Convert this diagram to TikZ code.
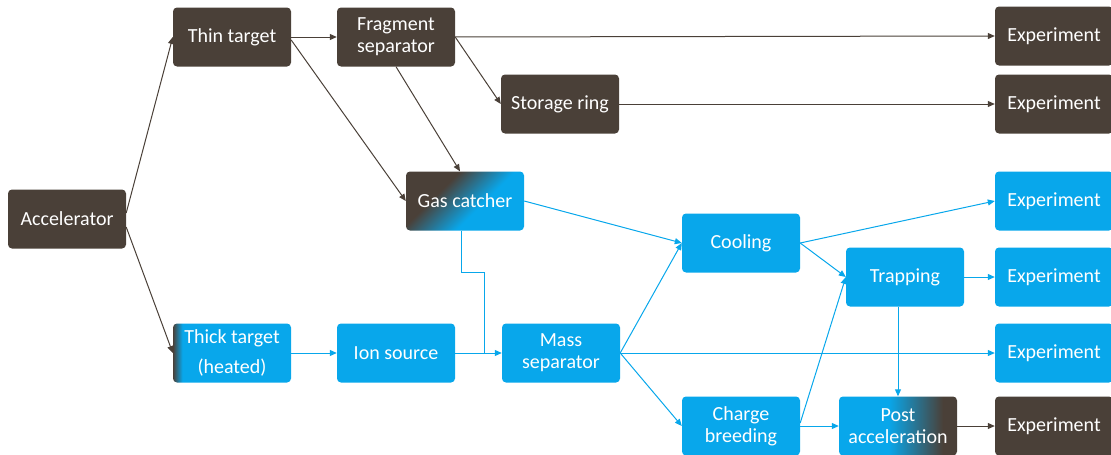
\documentclass[tikz,border=0pt]{standalone}
\usepackage{fontspec}
\setmainfont{Carlito}
\usepackage{tikz}
\usetikzlibrary{arrows.meta,positioning}

\definecolor{darkbrown}{RGB}{74,64,56}
\definecolor{lightblue}{RGB}{8,167,235}
\pgfdeclarehorizontalshading{thick_shade}{100bp}{color(0bp)=(darkbrown); color(25bp)=(darkbrown); color(29bp)=(lightblue); color(100bp)=(lightblue)}
\pgfdeclarehorizontalshading{post_shade}{100bp}{color(0bp)=(lightblue); color(46bp)=(lightblue); color(69bp)=(darkbrown); color(100bp)=(darkbrown)}
\pgfdeclarehorizontalshading{gas_shade}{100bp}{color(0bp)=(darkbrown); color(36bp)=(darkbrown); color(58bp)=(lightblue); color(100bp)=(lightblue)}

\begin{document}
\begin{tikzpicture}[x=1pt,y=-1pt]
		\tikzstyle{box_style} = [rectangle,rounded corners=4pt,minimum width=118pt,minimum height=59pt,inner sep=2pt,align=center,text=white,font=\fontsize{20}{22}\selectfont]
		\tikzstyle{brown_box} = [box_style,fill=darkbrown]
		\tikzstyle{blue_box} = [box_style,fill=lightblue]
		\tikzstyle{brown_edge} = [draw=darkbrown,line width=1pt,-{Triangle[length=7pt,width=6pt]}]
		\tikzstyle{blue_edge} = [draw=lightblue,line width=1pt,-{Triangle[length=7pt,width=6pt]}]
		\useasboundingbox (0,0) rectangle (1111,455);
		% left part
		\node[brown_box] (acc) at (67,219) {Accelerator};
		\node[brown_box] (thin) at (232,37) {Thin target};
		\node[brown_box] (frag) at (396,37) {Fragment\\separator};
		\node[brown_box] (ring) at (560,104) {Storage ring};
		\node[box_style,shade,shading=gas_shade,shading angle=-45] (gas) at (465,201) {Gas catcher};
		\node[box_style,shade,shading=thick_shade] (thick) at (232,353) {Thick target\\[8pt](heated)};
		\node[blue_box] (ion) at (396,353) {Ion source};
		\node[blue_box] (mass) at (561,353) {Mass\\separator};
		% right part
		\node[blue_box] (cool) at (741,243) {Cooling};
		\node[blue_box] (trap) at (905,277) {Trapping};
		\node[blue_box] (charge) at (741,426) {Charge\\breeding};
		\node[box_style,shade,shading=post_shade] (post) at (898,426) {Post\\acceleration};
		\node[brown_box] (exp1) at (1054,36) {Experiment};
		\node[brown_box] (exp2) at (1054,104) {Experiment};
		\node[blue_box] (exp3) at (1054,201) {Experiment};
		\node[blue_box] (exp4) at (1054,277) {Experiment};
		\node[blue_box] (exp5) at (1054,353) {Experiment};
		\node[brown_box] (exp6) at (1054,426) {Experiment};
		\coordinate (join) at (484,353);
		% brown connectors
		\draw[brown_edge] ([yshift=6pt]acc.east) -- (thin.west);
		\draw[brown_edge] ([yshift=-8pt]acc.east) -- (thick.west);
		\draw[brown_edge] (thin.east) -- (frag.west);
		\draw[brown_edge] ([yshift=-3pt]thin.east) -- (gas.west);
		\draw[brown_edge] (frag.south) -- ([xshift=-5pt]gas.north);
		\draw[brown_edge] (frag.east) -- (exp1.west);
		\draw[brown_edge] (frag.east) -- (ring.west);
		\draw[brown_edge] (ring.east) -- (exp2.west);
		\draw[brown_edge] (post.east) -- (exp6.west);
		% blue connectors
		\draw[draw=lightblue,line width=1pt] ([xshift=-4pt]gas.south) -- ++(0,42) -| (join);
		\draw[blue_edge] (gas.east) -- (cool.west);
		\draw[blue_edge] (thick.east) -- (ion.west);
		\draw[blue_edge] (ion.east) -- (mass.west);
		\draw[blue_edge] (mass.east) -- (cool.west);
		\draw[blue_edge] (mass.east) -- (exp5.west);
		\draw[blue_edge] (mass.east) -- (charge.west);
		\draw[blue_edge] (cool.east) -- (exp3.west);
		\draw[blue_edge] (cool.east) -- (trap.west);
		\draw[blue_edge] ([yshift=3pt]charge.east) -- (trap.west);
		\draw[blue_edge] (charge.east) -- (post.west);
		\draw[blue_edge] (trap.south -| post.north) -- (post.north);
		\draw[blue_edge] (trap.east) -- (exp4.west);
\end{tikzpicture}
\end{document}
